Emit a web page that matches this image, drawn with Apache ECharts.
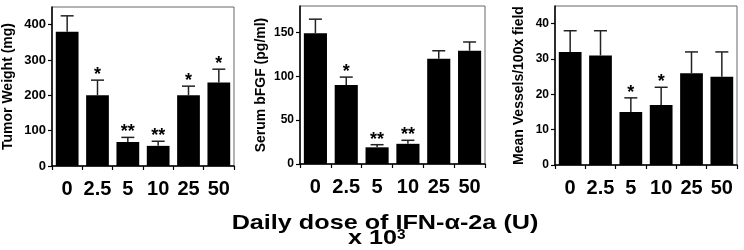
<!DOCTYPE html>
<html><head><meta charset="utf-8">
<script src="https://cdn.jsdelivr.net/npm/echarts@6/dist/echarts.min.js"></script>
<style>html,body{margin:0;padding:0;background:#fff}#c{width:744px;height:250px}</style>
</head><body><div id="c"></div>
<script>
const doses = ['0', '2.5', '5', '10', '25', '50'];

const tumorMean = [380, 200, 68, 57, 200, 236];
const tumorErr  = [45, 43, 13, 13, 26, 38];
const tumorSig  = ['', '*', '**', '**', '*', '*'];

const bfgfMean = [149, 90, 19, 23, 120, 129];
const bfgfErr  = [16, 9, 3, 4, 9, 10];
const bfgfSig  = ['', '*', '**', '**', '', ''];

const vesMean = [32, 31, 15, 17, 26, 25];
const vesErr  = [6, 7, 4, 5, 6, 7];
const vesSig  = ['', '', '*', '*', '', ''];

const yTitles = ['Tumor Weight (mg)', 'Serum bFGF (pg/ml)', 'Mean Vessels/100x field'];
const yMax = [450, 180, 45];
const yInterval = [100, 50, 10];

const FONT = '"Liberation Sans", Arial, Helvetica, sans-serif';
const chart = echarts.init(document.getElementById('c'), null, {renderer: 'canvas'});

const grids = [
  {left: 50, top: 7, width: 184, height: 159},
  {left: 300, top: 6, width: 185, height: 158},
  {left: 555, top: 6, width: 182, height: 159}
];
const panels = [
  {mean: tumorMean, err: tumorErr, sig: tumorSig, gap: 37, lab: 13},
  {mean: bfgfMean, err: bfgfErr, sig: bfgfSig, gap: 32, lab: 12},
  {mean: vesMean, err: vesErr, sig: vesSig, gap: 29, lab: 12}
];

const option = {
  animation: false,
  grid: grids.map(g => Object.assign({show: true, borderColor: '#666', borderWidth: 1, backgroundColor: 'transparent'}, g)),
  xAxis: panels.map((p, i) => ({
    type: 'category', gridIndex: i, data: doses,
    axisLine: {lineStyle: {color: '#000', width: 1.5}},
    axisTick: {show: true, length: 4, lineStyle: {color: '#000', width: 1.2}},
    axisLabel: {color: '#000', fontSize: 20, fontWeight: 'bold', fontFamily: FONT, margin: 13, interval: 0}
  })),
  yAxis: panels.map((p, i) => ({
    type: 'value', gridIndex: i, min: 0, max: yMax[i], interval: yInterval[i],
    name: yTitles[i], nameLocation: 'middle', nameGap: p.gap, nameRotate: 90,
    nameTextStyle: {color: '#000', fontSize: 14, fontWeight: 'bold', fontFamily: FONT},
    axisLine: {show: true, lineStyle: {color: '#000', width: 1.5}},
    axisTick: {show: true, length: 4, lineStyle: {color: '#000', width: 1.2}},
    splitLine: {show: false},
    axisLabel: {color: '#000', fontSize: p.lab, fontWeight: 'bold', fontFamily: FONT, margin: 6,
      showMaxLabel: false}
  })),
  series: []
};

panels.forEach((p, i) => {
  option.series.push({
    type: 'bar', xAxisIndex: i, yAxisIndex: i, data: p.mean,
    barCategoryGap: '25%', itemStyle: {color: '#000'}, z: 2
  });
  option.series.push({
    type: 'custom', xAxisIndex: i, yAxisIndex: i, z: 3,
    data: p.mean.map((m, k) => [k, m, m + p.err[k]]),
    renderItem: function (params, api) {
      const base = api.coord([api.value(0), api.value(1)]);
      const top = api.coord([api.value(0), api.value(2)]);
      const hw = 6.5;
      const style = {stroke: '#222', lineWidth: 1.5};
      const children = [
        {type: 'line', shape: {x1: base[0], y1: base[1], x2: top[0], y2: top[1]}, style: style},
        {type: 'line', shape: {x1: base[0] - hw, y1: top[1], x2: base[0] + hw, y2: top[1]}, style: style}
      ];
      const s = p.sig[params.dataIndex];
      if (s) {
        children.push({type: 'text', style: {text: s, x: base[0], y: top[1] + 4, align: 'center', verticalAlign: 'bottom',
          fill: '#000', font: 'bold 18px ' + FONT}});
      }
      return {type: 'group', children: children};
    }
  });
});

option.graphic = [
  {type: 'text', x: 385, y: 213, scaleX: 1.2, style: {text: 'Daily dose of IFN-α-2a (U)', fill: '#000', align: 'center',
    verticalAlign: 'top', font: 'bold 21px ' + FONT}},
  {type: 'text', x: 348, y: 228, scaleX: 1.2, style: {text: 'x 10', fill: '#000', align: 'left', verticalAlign: 'top',
    font: 'bold 21px ' + FONT}},
  {type: 'text', x: 397, y: 228, scaleX: 1.1, style: {text: '3', fill: '#000', align: 'left', verticalAlign: 'top',
    font: 'bold 14px ' + FONT}}
];

chart.setOption(option);
</script></body></html>
